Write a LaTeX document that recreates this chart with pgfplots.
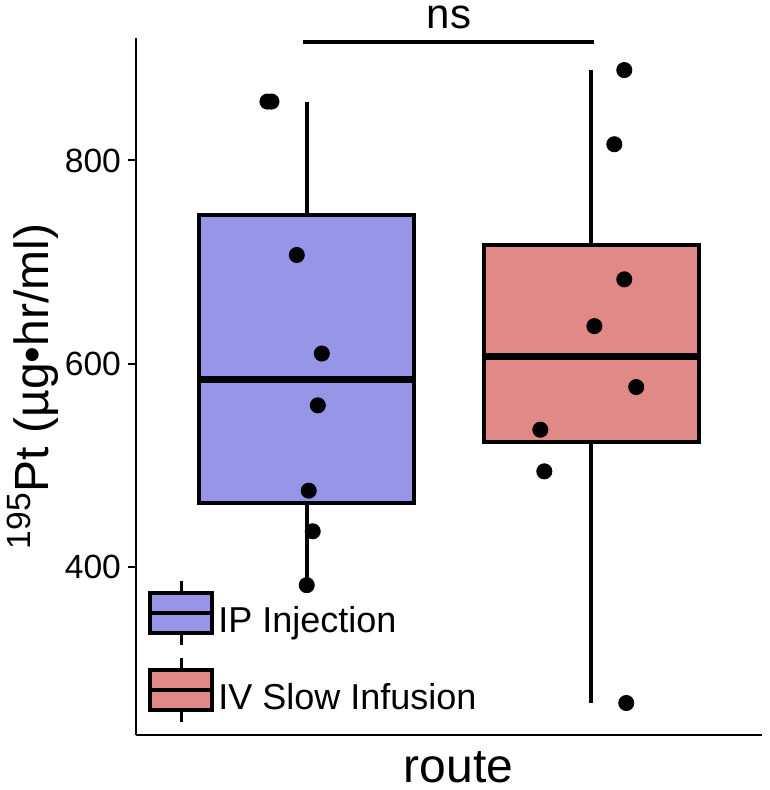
\documentclass[border=0pt]{standalone}
\usepackage{fontspec}
\setmainfont{Liberation Sans}
\usepackage{pgfplots}
\pgfplotsset{compat=1.18}
\definecolor{ipfill}{RGB}{151,149,232}
\definecolor{ivfill}{RGB}{224,137,135}

\begin{document}
\begin{tikzpicture}
\begin{axis}[
    scale only axis,
    width=313pt, height=348.5pt,
    xmin=0.4, xmax=2.6, ymin=234.5, ymax=920.6,
    axis x line=bottom, axis y line=left,
    axis line style={-, line width=1pt},
    xtick=\empty, ytick={400,600,800},
    tick align=outside, major tick length=4pt,
    tick style={line width=1pt, black},
    ticklabel style={font=\fontsize{16.8}{18}\selectfont},
    /pgf/number format/assume math mode=true,
    xlabel={route},
    ylabel={\textsuperscript{195}Pt (µg•hr/ml)},
    xlabel style={font=\fontsize{24}{26}\selectfont,
        at={(axis description cs:0.515,0)}, anchor=base, yshift=-23.5pt},
    ylabel style={font=\fontsize{24}{26}\selectfont,
        at={(axis description cs:-0.1645,0.5)}, anchor=center},
    clip=false,
    legend style={at={(0.0192,0.2238)}, anchor=north west, draw=none, fill=none,
        inner sep=0pt, font=\fontsize{18}{20}\selectfont, row sep=5pt},
    legend cell align=left,
]
    % IP Injection: whiskers, box (Q1..Q3), median
    \addplot[forget plot, line width=2pt] coordinates {(1,746) (1,858)};
    \addplot[forget plot, line width=2pt] coordinates {(1,463) (1,382)};
    \addplot[forget plot, line width=2pt, draw=black, fill=ipfill]
        coordinates {(0.623,463) (1.377,463) (1.377,746) (0.623,746)} -- cycle;
    \addplot[forget plot, line width=3.5pt] coordinates {(0.623,584) (1.377,584)};

    % IV Slow Infusion
    \addplot[forget plot, line width=2pt] coordinates {(2,717) (2,889)};
    \addplot[forget plot, line width=2pt] coordinates {(2,523) (2,266)};
    \addplot[forget plot, line width=2pt, draw=black, fill=ivfill]
        coordinates {(1.623,523) (2.377,523) (2.377,717) (1.623,717)} -- cycle;
    \addplot[forget plot, line width=3.5pt] coordinates {(1.623,607) (2.377,607)};

    % jittered points
    \addplot[forget plot, only marks, mark=*, mark size=3.8pt, black] coordinates {
        (0.862,858) (0.876,858) (0.965,707) (1.053,610) (1.039,559)
        (1.007,475) (1.021,435) (1.000,382)
    };
    \addplot[forget plot, only marks, mark=*, mark size=3.8pt, black] coordinates {
        (2.116,889) (2.081,816) (2.116,683) (2.011,637) (2.158,577)
        (1.821,535) (1.835,494) (2.123,266)
    };

    % significance bar
    \addplot[forget plot, line width=2pt, black] coordinates {(0.986,916.6) (2.01,916.6)};
    \node[font=\fontsize{21}{24}\selectfont, anchor=base, inner sep=0pt]
        at (axis cs:1.5,930.4) {ns};

    % legend glyphs
    \addlegendimage{legend image code/.code={
        \draw[line width=1.5pt] (15.5pt,-12pt) -- (15.5pt,20pt);
        \draw[line width=2pt, fill=ipfill] (0pt,-6pt) rectangle (31pt,14pt);
        \draw[line width=2pt] (0pt,4pt) -- (31pt,4pt);
    }}
    \addlegendentry{IP Injection}
    \addlegendimage{legend image code/.code={
        \draw[line width=1.5pt] (15.5pt,-12pt) -- (15.5pt,20pt);
        \draw[line width=2pt, fill=ivfill] (0pt,-6pt) rectangle (31pt,14pt);
        \draw[line width=2pt] (0pt,4pt) -- (31pt,4pt);
    }}
    \addlegendentry{IV Slow Infusion}
\end{axis}
\pgfresetboundingbox
\useasboundingbox (-68pt,-27.5pt) rectangle (316.5pt,367.5pt);
\end{tikzpicture}
\end{document}
